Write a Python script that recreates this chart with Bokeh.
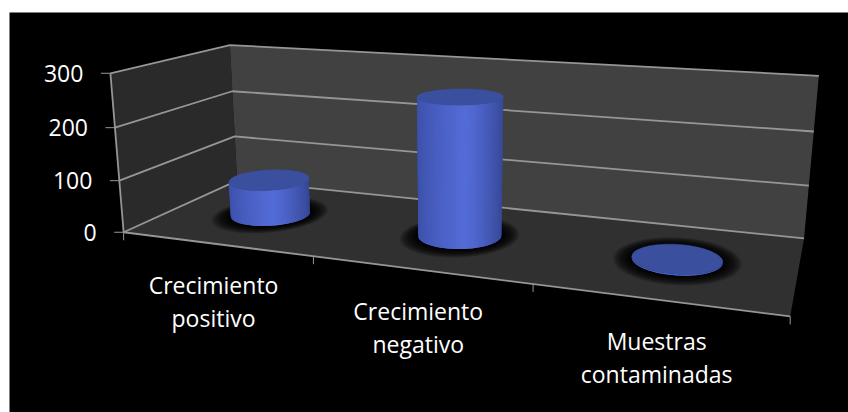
import numpy as np
from bokeh.embed import file_html
from bokeh.resources import INLINE
from bokeh.plotting import figure
from bokeh.models import Range1d
from bokeh.core.properties import value

# Chart data
categories = ["Crecimiento\npositivo", "Crecimiento\nnegativo", "Muestras\ncontaminadas"]
counts = [70, 260, 2]
value_ticks = [0, 100, 200, 300]

W, H = 848, 412
FONT = value("Open Sans")
FONT_SIZE = "23px"

# Camera calibration for the 3D box: (category, depth, hundreds) -> screen position
camera_world = np.array([
    (0, 0, 0), (0, 0, 1), (0, 0, 2), (0, 0, 3),
    (0, 1, 0), (0, 1, 1), (0, 1, 2), (0, 1, 3),
    (3, 1, 0), (3, 1, 1), (3, 1, 2), (3, 1, 3),
    (3, 0, 0), (1, 0, 0), (2, 0, 0),
], dtype=float)
camera_screen = np.array([
    (123.5, 232), (118, 180), (115, 126.7), (110, 73),
    (237, 180.7), (234, 135.7), (231.7, 90.7), (229.3, 44.3),
    (803.3, 237.3), (808.7, 185), (813.3, 131.3), (818.3, 75.7),
    (790, 316), (313, 255.8), (532, 283.5),
])


def solve_camera(world, screen):
    rows, rhs = [], []
    for (x, d, z), (u, v) in zip(world, screen):
        rows.append([x, d, z, 1, 0, 0, 0, 0, -u * x, -u * d, -u * z])
        rows.append([0, 0, 0, 0, x, d, z, 1, -v * x, -v * d, -v * z])
        rhs += [u, v]
    sol = np.linalg.lstsq(np.array(rows), np.array(rhs), rcond=None)[0]
    return np.append(sol, 1).reshape(3, 4)


CAM = solve_camera(camera_world, camera_screen)


def project(x, d, val):
    """Map category position, depth and count to figure coordinates."""
    x, d, z = np.asarray(x, float), np.asarray(d, float), np.asarray(val, float) / 100
    w = CAM[2, 0] * x + CAM[2, 1] * d + CAM[2, 2] * z + CAM[2, 3]
    u = (CAM[0, 0] * x + CAM[0, 1] * d + CAM[0, 2] * z + CAM[0, 3]) / w
    v = (CAM[1, 0] * x + CAM[1, 1] * d + CAM[1, 2] * z + CAM[1, 3]) / w
    return u, v


def face(points):
    xs, ys = zip(*[project(*pt) for pt in points])
    return [float(a) for a in xs], [float(b) for b in ys]


p = figure(width=W, height=H, output_backend="svg", toolbar_location=None,
           x_range=Range1d(0, W), y_range=Range1d(H, 0), min_border=0,
           background_fill_color="white", border_fill_color="white",
           outline_line_color=None)
p.axis.visible = False
p.grid.visible = False

# Slide background
p.quad(left=9, right=W, top=12, bottom=H, fill_color="black", line_color=None)

# Walls and floor
top = value_ticks[-1]
for pts, col in [
    ([(0, 0, 0), (0, 1, 0), (0, 1, top), (0, 0, top)], "#2a2a2a"),
    ([(0, 1, 0), (3, 1, 0), (3, 1, top), (0, 1, top)], "#414141"),
    ([(0, 0, 0), (3, 0, 0), (3, 1, 0), (0, 1, 0)], "#303030"),
]:
    xs, ys = face(pts)
    p.patch(xs, ys, fill_color=col, line_color=None)

GRID = "#969696"
# Gridlines run along the left and back walls
for t in value_ticks:
    xs, ys = face([(0, 0, t), (0, 1, t), (3, 1, t)])
    p.line(xs, ys, line_color=GRID, line_width=1.8)

# Axis lines
xs, ys = face([(0, 0, 0), (0, 0, top)])
p.line(xs, ys, line_color=GRID, line_width=1.8)
xs, ys = face([(0, 0, 0), (3, 0, 0)])
p.line(xs, ys, line_color=GRID, line_width=1.8)

# Value axis ticks and labels
for t in value_ticks:
    u, v = project(0, 0, t)
    p.line([float(u) - 9.5, float(u)], [float(v), float(v)], line_color=GRID, line_width=1)
    p.text([float(u) - 27], [float(v)], text=[str(t)], text_color="white",
           text_font=FONT, text_font_size=FONT_SIZE, text_align="right",
           text_baseline="middle")

# Category ticks and labels
for i in range(len(categories) + 1):
    u, v = project(i, 0, 0)
    p.line([float(u), float(u)], [float(v), float(v) + 8], line_color=GRID, line_width=1)

for i, label in enumerate(categories):
    u0, v0 = project(i, 0, 0)
    u1, v1 = project(i + 1, 0, 0)
    cx, mid = float(u0 + u1) / 2 - 5, float(v0 + v1) / 2 + 41
    for j, line in enumerate(label.split("\n")):
        p.text([cx], [mid + 33 * j], text=[line], text_color="white",
               text_font=FONT, text_font_size=FONT_SIZE, text_align="center",
               text_baseline="middle")

# Cylinders
RX, RD = 0.192, 0.2
theta = np.linspace(0, 2 * np.pi, 121)
STEP = theta[1] - theta[0]
DARK_L = np.array([60, 80, 168])
LIGHT = np.array([84, 108, 216])
DARK_R = np.array([54, 72, 150])


def side_colour(f):
    if f < 0.55:
        rgb = DARK_L + (LIGHT - DARK_L) * (f / 0.55) ** 0.8
    else:
        rgb = LIGHT + (DARK_R - LIGHT) * ((f - 0.55) / 0.45) ** 1.4
    return "#%02x%02x%02x" % tuple(int(c) for c in rgb)


for i, count in enumerate(counts):
    cx, cd = i + 0.5, 0.5
    # Soft contact shadow on the floor
    for t in np.linspace(1, 0, 30):
        xs, ys = project(cx + RX * (1 + 0.42 * t) * np.cos(theta),
                         cd + RD * (1 + 0.62 * t) * np.sin(theta), 0 * theta)
        p.patch(xs.tolist(), ys.tolist(), fill_color="black", fill_alpha=0.06, line_color=None)

    bx, by = project(cx + RX * np.cos(theta), cd + RD * np.sin(theta), 0 * theta)
    tx, ty = project(cx + RX * np.cos(theta), cd + RD * np.sin(theta), 0 * theta + count)
    left, right = min(bx.min(), tx.min()), max(bx.max(), tx.max())

    # Side wall painted left to right, each strip overlapping the next
    angles = np.arange(np.pi - 0.35, 2 * np.pi + 0.35, STEP)
    for a in angles:
        arc = np.array([a, a + 2 * STEP])
        ax, ad = cx + RX * np.cos(arc), cd + RD * np.sin(arc)
        sbx, sby = project(ax, ad, 0 * arc)
        stx, sty = project(ax, ad, 0 * arc + count)
        f = float(np.clip((sbx.mean() - left) / (right - left), 0, 1))
        p.patch([sbx[0], sbx[1], stx[1], stx[0]], [sby[0], sby[1], sty[1], sty[0]],
                fill_color=side_colour(f), line_color=None)
    # Top cap
    p.patch(tx.tolist(), ty.tolist(), fill_color="#3b4f9f", line_color="#3b4f9f", line_width=0.5)

open("out.html", "w").write(file_html(p, INLINE))
